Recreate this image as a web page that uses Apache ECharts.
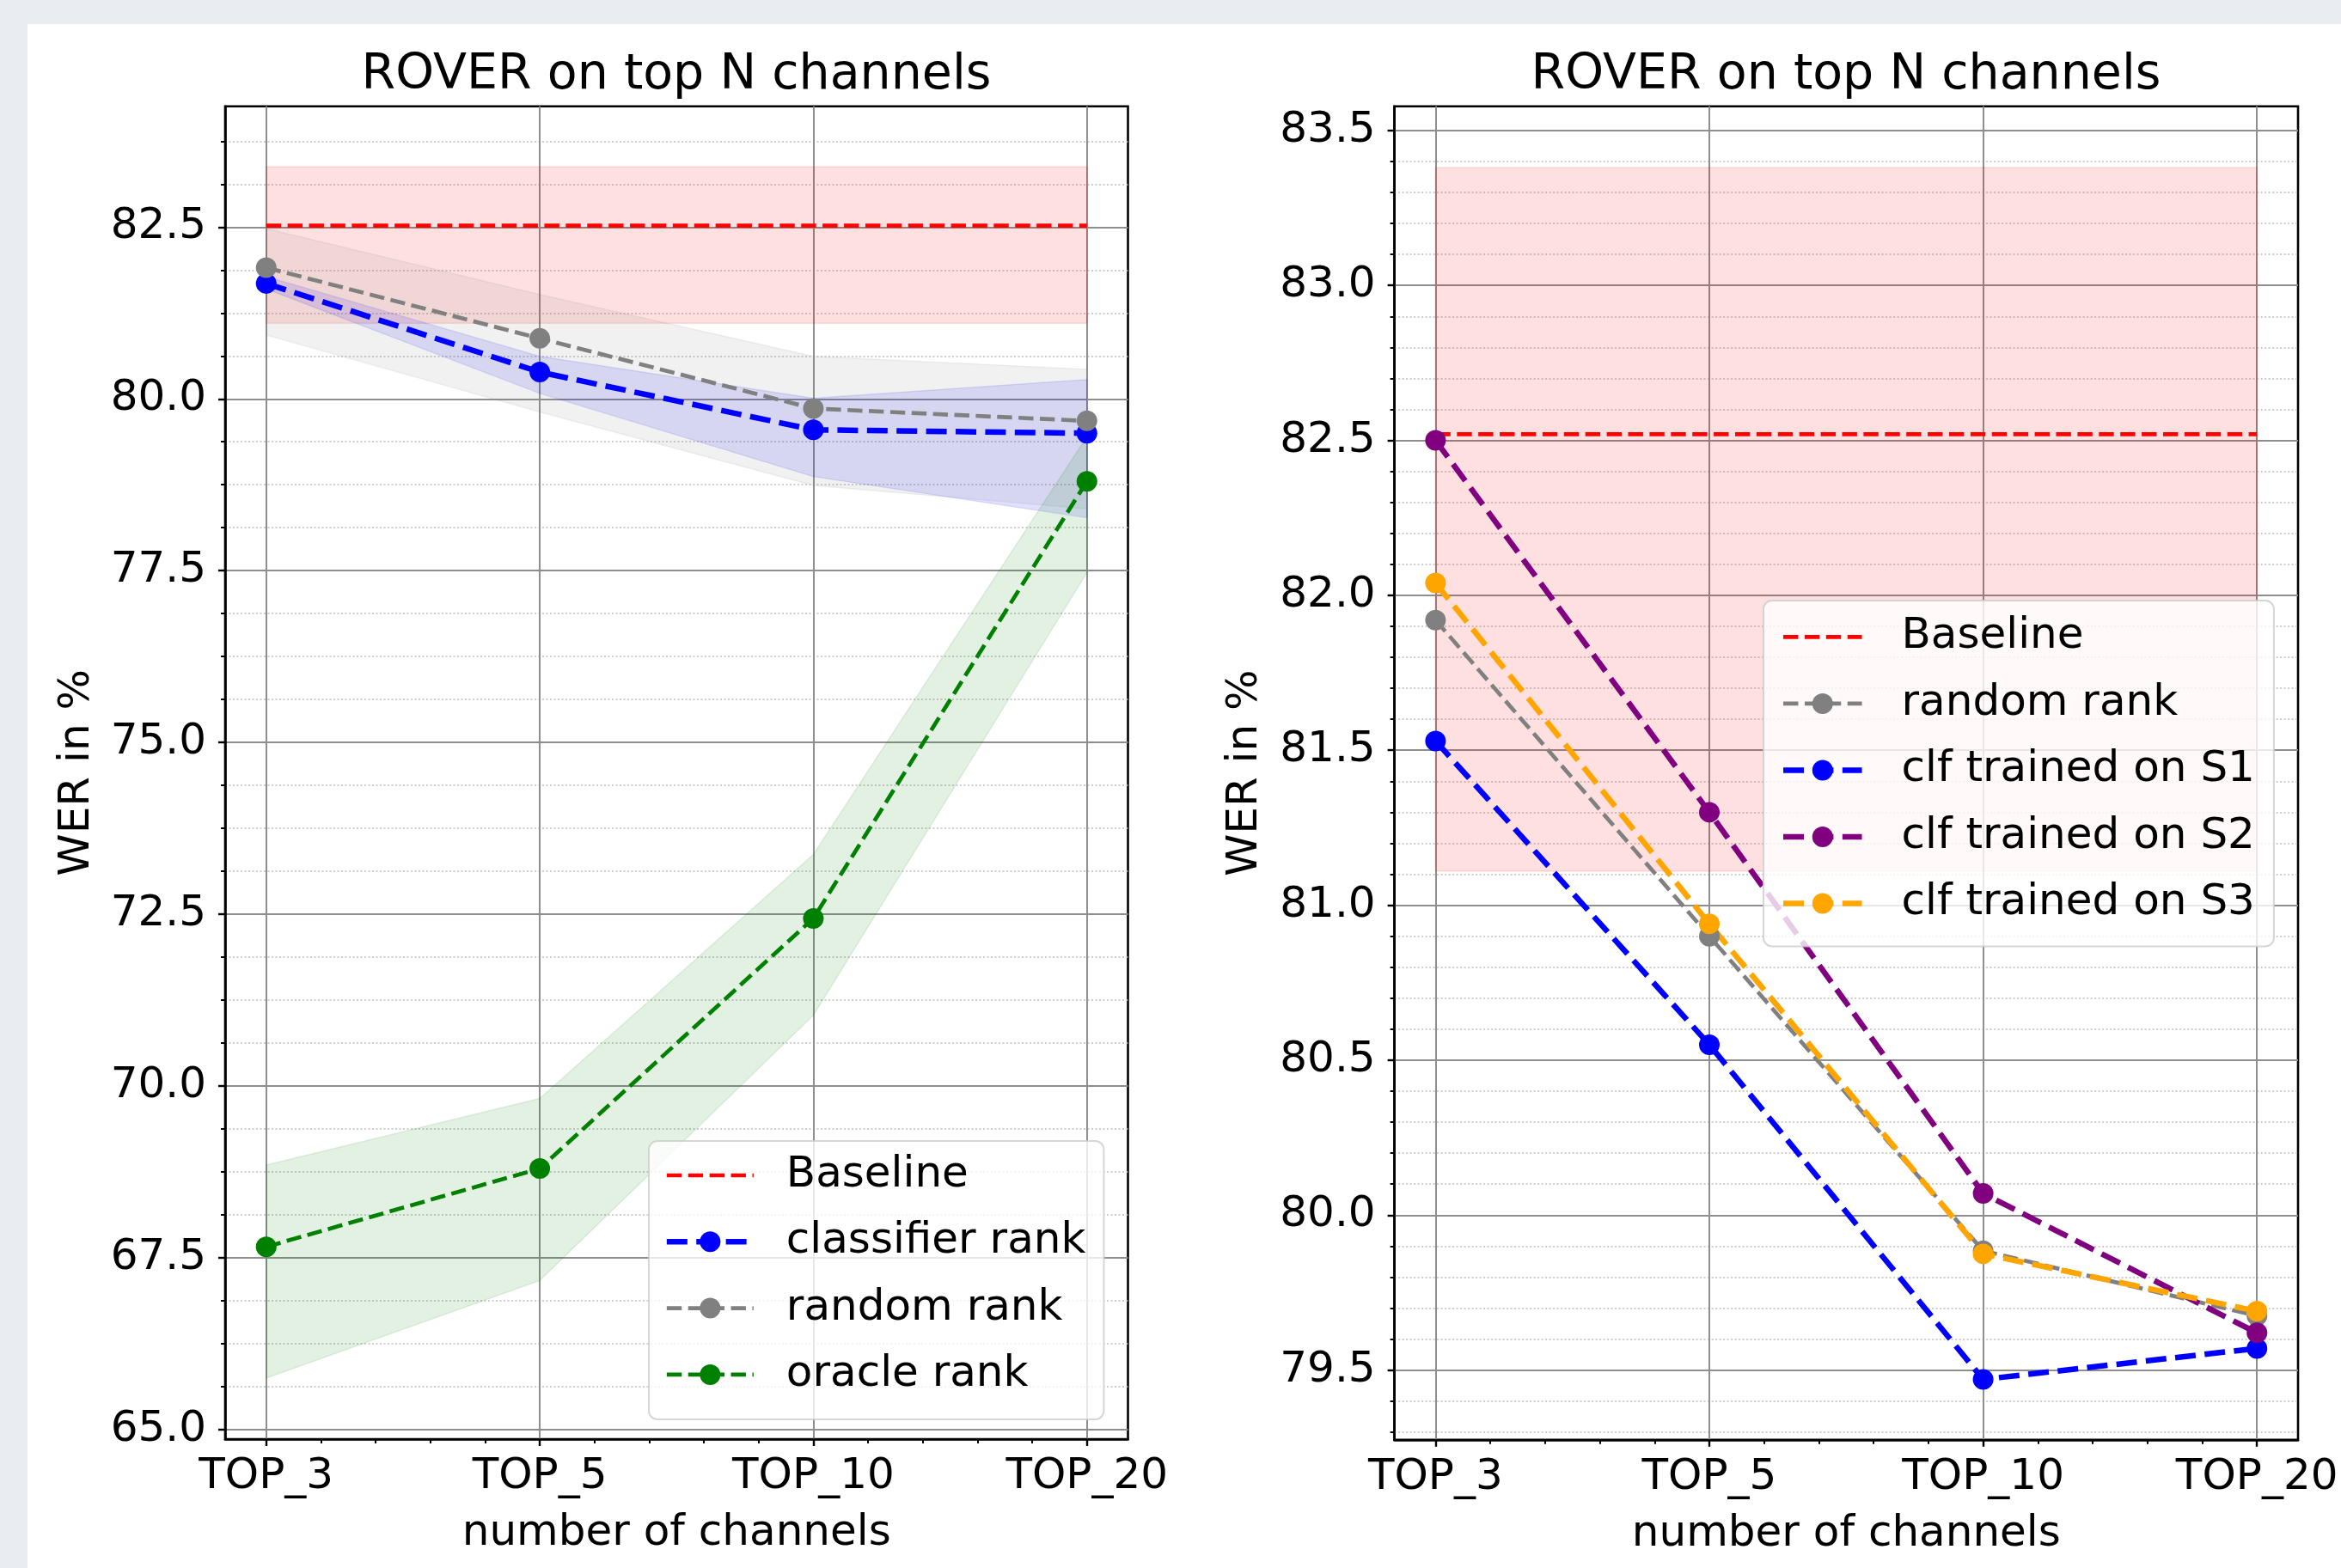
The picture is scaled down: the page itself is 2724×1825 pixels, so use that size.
<!DOCTYPE html>
<html>
<head>
<meta charset="utf-8">
<script src="https://cdn.jsdelivr.net/npm/echarts@6/dist/echarts.min.js"></script>
<style>
html,body{margin:0;padding:0;background:#e9ecf1;width:2724px;height:1825px;overflow:hidden;}
#panel{position:absolute;left:32px;top:28px;right:0;bottom:0;background:#ffffff;}
#chart{position:absolute;left:0;top:0;width:2724px;height:1825px;}
</style>
</head>
<body>
<div id="panel"></div>
<div id="chart"></div>
<script>
// ---------- data ----------
const categories = ['TOP_3', 'TOP_5', 'TOP_10', 'TOP_20'];
const xPositions = [0, 1, 2, 3];

// left panel
const leftBaseline = [82.52, 82.52, 82.52, 82.52];
const leftBaselineLow = [81.1, 81.1, 81.1, 81.1];
const leftBaselineHigh = [83.38, 83.38, 83.38, 83.38];
const classifierRank = [81.68, 80.39, 79.55, 79.50];
const classifierLow = [81.60, 80.08, 78.87, 78.27];
const classifierHigh = [81.78, 80.62, 80.01, 80.28];
const randomRankLeft = [81.91, 80.88, 79.86, 79.68];
const randomLow = [80.93, 79.81, 78.74, 78.40];
const randomHigh = [82.48, 81.52, 80.62, 80.43];
const oracleRank = [67.66, 68.80, 72.44, 78.80];
const oracleLow = [65.75, 67.17, 71.03, 77.47];
const oracleHigh = [68.85, 69.82, 73.37, 79.45];

// right panel
const rightBaseline = [82.52, 82.52, 82.52, 82.52];
const rightBaselineLow = [81.11, 81.11, 81.11, 81.11];
const rightBaselineHigh = [83.38, 83.38, 83.38, 83.38];
const randomRankRight = [81.92, 80.90, 79.885, 79.675];
const clfS1 = [81.53, 80.55, 79.47, 79.57];
const clfS2 = [82.50, 81.30, 80.07, 79.62];
const clfS3 = [82.04, 80.94, 79.875, 79.69];

// ticks
const xRange = [-0.15, 3.15];
const xMajorTicks = [0, 1, 2, 3];
const xMinorTicks = [0.2, 0.4, 0.6, 0.8, 1.2, 1.4, 1.6, 1.8, 2.2, 2.4, 2.6, 2.8];
const leftYRange = [64.862, 84.258];
const leftYMajor = [65, 67.5, 70, 72.5, 75, 77.5, 80, 82.5];
const leftYMinor = [65.625, 66.25, 66.875, 68.125, 68.75, 69.375, 70.625, 71.25, 71.875,
  73.125, 73.75, 74.375, 75.625, 76.25, 76.875, 78.125, 78.75, 79.375, 80.625, 81.25, 81.875,
  83.125, 83.75];
const rightYRange = [79.275, 83.578];
const rightYMajor = [79.5, 80, 80.5, 81, 81.5, 82, 82.5, 83, 83.5];
const rightYMinor = [79.3, 79.4, 79.6, 79.7, 79.8, 79.9, 80.1, 80.2, 80.3, 80.4, 80.6, 80.7,
  80.8, 80.9, 81.1, 81.2, 81.3, 81.4, 81.6, 81.7, 81.8, 81.9, 82.1, 82.2, 82.3, 82.4, 82.6,
  82.7, 82.8, 82.9, 83.1, 83.2, 83.3, 83.4];

// ---------- styling ----------
const FONT = 'DejaVu Sans';
const FS = 50;
const MAJOR_GRID = '#8e8e8e';
const MINOR_GRID = '#bdbdbd';

function pairs(vals) { return vals.map((v, i) => [xPositions[i], v]); }

function bandSeries(id, lo, hi, color, axisIdx) {
  return {
    id: id, type: 'custom', xAxisIndex: axisIdx, yAxisIndex: axisIdx,
    silent: true, z: 1, animation: false,
    data: lo.map((v, i) => [xPositions[i], lo[i], hi[i]]),
    encode: { x: 0, y: [1, 2] },
    renderItem: function (params, api) {
      if (params.dataIndex !== 0) return null;
      const pts = [];
      for (let i = 0; i < xPositions.length; i++) pts.push(api.coord([xPositions[i], hi[i]]));
      for (let i = xPositions.length - 1; i >= 0; i--) pts.push(api.coord([xPositions[i], lo[i]]));
      return { type: 'polygon', shape: { points: pts },
        style: { fill: color, stroke: color, lineWidth: 1.5 } };
    }
  };
}

function lineSeries(name, vals, color, width, dash, axisIdx, withSymbol) {
  return {
    name: name, type: 'line', xAxisIndex: axisIdx, yAxisIndex: axisIdx,
    data: pairs(vals), z: 3, animation: false, clip: false,
    symbol: withSymbol ? 'circle' : 'none', symbolSize: 24, showSymbol: withSymbol,
    lineStyle: { color: color, width: width, type: dash },
    itemStyle: { color: color },
    emphasis: { disabled: true }
  };
}

function xAxes(gridIndex) {
  return [{
    type: 'value', gridIndex: gridIndex, position: 'bottom', min: xRange[0], max: xRange[1],
    axisLine: { show: true, onZero: false, lineStyle: { color: '#000', width: 2.6 } },
    axisTick: { show: true, customValues: xMajorTicks, length: 8, lineStyle: { color: '#000', width: 2.4 } },
    axisLabel: { show: true, customValues: xMajorTicks, margin: 19, fontSize: FS, fontFamily: FONT, color: '#000',
      formatter: function (v) { return categories[Math.round(v)]; } },
    splitLine: { show: true, lineStyle: { color: MAJOR_GRID, width: 2 } },
    name: 'number of channels', nameLocation: 'middle', nameGap: 85,
    nameTextStyle: { fontSize: FS, fontFamily: FONT, color: '#000' }
  }, {
    type: 'value', gridIndex: gridIndex, position: 'bottom', min: xRange[0], max: xRange[1],
    axisLine: { show: false, onZero: false },
    axisTick: { show: true, customValues: xMinorTicks, length: 5, lineStyle: { color: '#000', width: 2 } },
    axisLabel: { show: false },
    splitLine: { show: false }
  }];
}

function yAxes(gridIndex, range, major, minor, gap) {
  return [{
    type: 'value', gridIndex: gridIndex, position: 'left', min: range[0], max: range[1],
    axisLine: { show: true, onZero: false, lineStyle: { color: '#000', width: 2.6 } },
    axisTick: { show: true, customValues: major, length: 8, lineStyle: { color: '#000', width: 2.4 } },
    axisLabel: { show: true, customValues: major, margin: 22, fontSize: FS, fontFamily: FONT, color: '#000',
      formatter: function (v) { return v.toFixed(1); } },
    splitLine: { show: true, lineStyle: { color: MAJOR_GRID, width: 2 } },
    name: 'WER in %', nameLocation: 'middle', nameRotate: 90, nameGap: gap,
    nameTextStyle: { fontSize: FS, fontFamily: FONT, color: '#000' }
  }, {
    type: 'value', gridIndex: gridIndex, position: 'left', min: range[0], max: range[1],
    axisLine: { show: false, onZero: false },
    axisTick: { show: true, customValues: minor, length: 5, lineStyle: { color: '#000', width: 2 } },
    axisLabel: { show: false },
    splitLine: { show: true, lineStyle: { color: MINOR_GRID, width: 1.5, type: [2, 2.5] } }
  }];
}

const RED = '#ff0000', BLUE = '#0000ff', GREY = '#808080', GREEN = '#008000',
  PURPLE = '#800080', ORANGE = '#ffa500';
const THIN = 4.7, THICK = 6.5;
const DASH_THIN = [17.4, 7.5], DASH_THICK = [24, 10.4];

const legendCommon = {
  orient: 'vertical', selectedMode: false,
  itemHeight: 30,
  backgroundColor: 'rgba(255,255,255,0.8)', borderColor: 'rgba(204,204,204,0.8)',
  borderWidth: 2, borderRadius: 10
};

const option = {
  backgroundColor: 'transparent',
  animation: false,
  textStyle: { fontFamily: FONT },
  title: [
    { text: 'ROVER on top N channels', left: 787, top: 60, textAlign: 'center', padding: 0,
      textStyle: { fontSize: 57, fontWeight: 'normal', fontFamily: FONT, color: '#000' } },
    { text: 'ROVER on top N channels', left: 2148, top: 60, textAlign: 'center', padding: 0,
      textStyle: { fontSize: 57, fontWeight: 'normal', fontFamily: FONT, color: '#000' } }
  ],
  grid: [
    { left: 262, top: 123.7, width: 1050.5, height: 1551.3, show: true, borderColor: '#000',
      borderWidth: 2.6, backgroundColor: 'transparent', containLabel: false, outerBoundsMode: 'none' },
    { left: 1622.6, top: 123.7, width: 1051.4, height: 1552.1, show: true, borderColor: '#000',
      borderWidth: 2.6, backgroundColor: 'transparent', containLabel: false, outerBoundsMode: 'none' }
  ],
  xAxis: [].concat(xAxes(0), xAxes(1)),
  yAxis: [].concat(yAxes(0, leftYRange, leftYMajor, leftYMinor, 147),
    yAxes(1, rightYRange, rightYMajor, rightYMinor, 149)),
  legend: [
    Object.assign({}, legendCommon, {
      left: 755, top: 1328, itemWidth: 101, itemGap: 17.3,
      padding: [10, 21, 22, 17.6],
      textStyle: { fontFamily: FONT, fontSize: FS, color: '#000', lineHeight: 60, padding: [0, 0, 0, 33] },
      data: [
        { name: 'Baseline', itemStyle: { opacity: 0 }, lineStyle: { width: THIN, type: DASH_THIN, color: RED } },
        { name: 'classifier rank', lineStyle: { width: THICK, type: DASH_THICK, color: BLUE } },
        { name: 'random rank', lineStyle: { width: THIN, type: DASH_THIN, color: GREY } },
        { name: 'oracle rank', lineStyle: { width: THIN, type: DASH_THIN, color: GREEN } }
      ]
    }),
    Object.assign({}, legendCommon, {
      left: 2052, top: 699, itemWidth: 91.5, itemGap: 17.5,
      padding: [12.4, 22, 20, 19.8],
      textStyle: { fontFamily: FONT, fontSize: FS, color: '#000', lineHeight: 60, padding: [0, 0, 0, 41] },
      data: [
        { name: 'Baseline', itemStyle: { opacity: 0 }, lineStyle: { width: THIN, type: DASH_THIN, color: RED } },
        { name: 'random rank', lineStyle: { width: THIN, type: DASH_THIN, color: GREY } },
        { name: 'clf trained on S1', lineStyle: { width: THICK, type: DASH_THICK, color: BLUE } },
        { name: 'clf trained on S2', lineStyle: { width: THICK, type: DASH_THICK, color: PURPLE } },
        { name: 'clf trained on S3', lineStyle: { width: THICK, type: DASH_THICK, color: ORANGE } }
      ]
    })
  ],
  series: [
    // left panel
    bandSeries('leftBaselineBand', leftBaselineLow, leftBaselineHigh, 'rgba(255,0,0,0.12)', 0),
    lineSeries('Baseline', leftBaseline, RED, THIN, DASH_THIN, 0, false),
    bandSeries('classifierBand', classifierLow, classifierHigh, 'rgba(0,0,255,0.12)', 0),
    lineSeries('classifier rank', classifierRank, BLUE, THICK, DASH_THICK, 0, true),
    bandSeries('randomBand', randomLow, randomHigh, 'rgba(128,128,128,0.11)', 0),
    lineSeries('random rank', randomRankLeft, GREY, THIN, DASH_THIN, 0, true),
    bandSeries('oracleBand', oracleLow, oracleHigh, 'rgba(0,128,0,0.11)', 0),
    lineSeries('oracle rank', oracleRank, GREEN, THIN, DASH_THIN, 0, true),
    // right panel
    bandSeries('rightBaselineBand', rightBaselineLow, rightBaselineHigh, 'rgba(255,0,0,0.12)', 2),
    lineSeries('Baseline', rightBaseline, RED, THIN, DASH_THIN, 2, false),
    lineSeries('random rank', randomRankRight, GREY, THIN, DASH_THIN, 2, true),
    lineSeries('clf trained on S1', clfS1, BLUE, THICK, DASH_THICK, 2, true),
    lineSeries('clf trained on S2', clfS2, PURPLE, THICK, DASH_THICK, 2, true),
    lineSeries('clf trained on S3', clfS3, ORANGE, THICK, DASH_THICK, 2, true)
  ]
};

const chart = echarts.init(document.getElementById('chart'), null, { renderer: 'canvas' });
chart.setOption(option);
</script>
</body>
</html>
